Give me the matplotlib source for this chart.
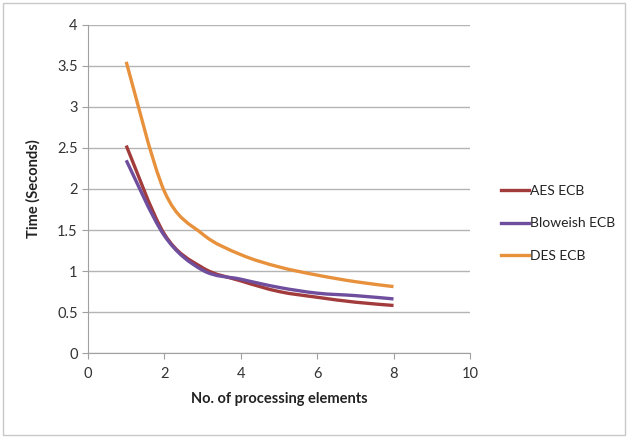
import matplotlib
matplotlib.use("Agg")
import matplotlib.pyplot as plt
from matplotlib.path import Path
from matplotlib.patches import PathPatch, Rectangle
from matplotlib.lines import Line2D
import numpy as np

plt.rcParams['font.family'] = ['Lato', 'DejaVu Sans']

x_elements = [1, 2, 3, 4, 5, 6, 7, 8]
aes_ecb = [2.53, 1.45, 1.04, 0.88, 0.75, 0.68, 0.62, 0.58]
blowfish_ecb = [2.35, 1.43, 1.01, 0.90, 0.80, 0.73, 0.70, 0.66]
des_ecb = [3.55, 1.97, 1.45, 1.20, 1.05, 0.95, 0.87, 0.81]
series_names = ['AES ECB', 'Bloweish ECB', 'DES ECB']
colors = ['#a23b3c', '#6f4e9e', '#e8913c']

def smooth_path(xs, ys, t=1/6):
    pts = np.column_stack([xs, ys]).astype(float)
    n = len(pts)
    verts = [pts[0]]
    codes = [Path.MOVETO]
    for i in range(n - 1):
        p0 = pts[i - 1] if i > 0 else pts[i]
        p1 = pts[i]
        p2 = pts[i + 1]
        p3 = pts[i + 2] if i + 2 < n else pts[i + 1]
        c1 = p1 + (p2 - p0) * t
        c2 = p2 - (p3 - p1) * t
        verts += [c1, c2, p2]
        codes += [Path.CURVE4] * 3
    return Path(verts, codes)

fig = plt.figure(figsize=(6.29, 4.38), dpi=100)
fig.patches.append(Rectangle((0.004, 0.006), 0.99, 0.988, transform=fig.transFigure,
                             fill=False, edgecolor='#c8c8c8', linewidth=1.0))
ax = fig.add_axes([0.14, 0.194, 0.607, 0.749])

for ys, c in zip([aes_ecb, blowfish_ecb, des_ecb], colors):
    ax.add_patch(PathPatch(smooth_path(x_elements, ys), facecolor='none',
                           edgecolor=c, linewidth=2.4, capstyle='butt'))

ax.set_xlim(0, 10)
ax.set_ylim(0, 4)
ax.set_xticks([0, 2, 4, 6, 8, 10])
ax.set_yticks([0, 0.5, 1, 1.5, 2, 2.5, 3, 3.5, 4])
ax.set_yticklabels(['0', '0.5', '1', '1.5', '2', '2.5', '3', '3.5', '4'])
ax.yaxis.grid(True, color='#b4b4b4', linewidth=1.0)
ax.set_axisbelow(True)
for s in ['top', 'right']:
    ax.spines[s].set_visible(False)
for s in ['left', 'bottom']:
    ax.spines[s].set_color('#a0a0a0')
ax.tick_params(axis='both', direction='out', length=4, color='#a0a0a0',
               labelsize=10.5, labelcolor='#333333')
ax.tick_params(axis='x', pad=6)
ax.set_xlabel('No. of processing elements', fontsize=10.5, fontweight='bold',
              color='#222222', labelpad=8)
ax.set_ylabel('Time (Seconds)', fontsize=10.5, fontweight='bold', color='#222222',
              labelpad=12)

handles = [Line2D([0], [0], color=c, linewidth=2.4) for c in colors]
fig.legend(handles, series_names, loc='center left', bbox_to_anchor=(0.783, 0.49),
           frameon=False, fontsize=10, handlelength=2.0, handletextpad=0.1,
           labelspacing=1.45, labelcolor='#222222', borderaxespad=0.2)

fig.savefig('out.png', dpi=100)
